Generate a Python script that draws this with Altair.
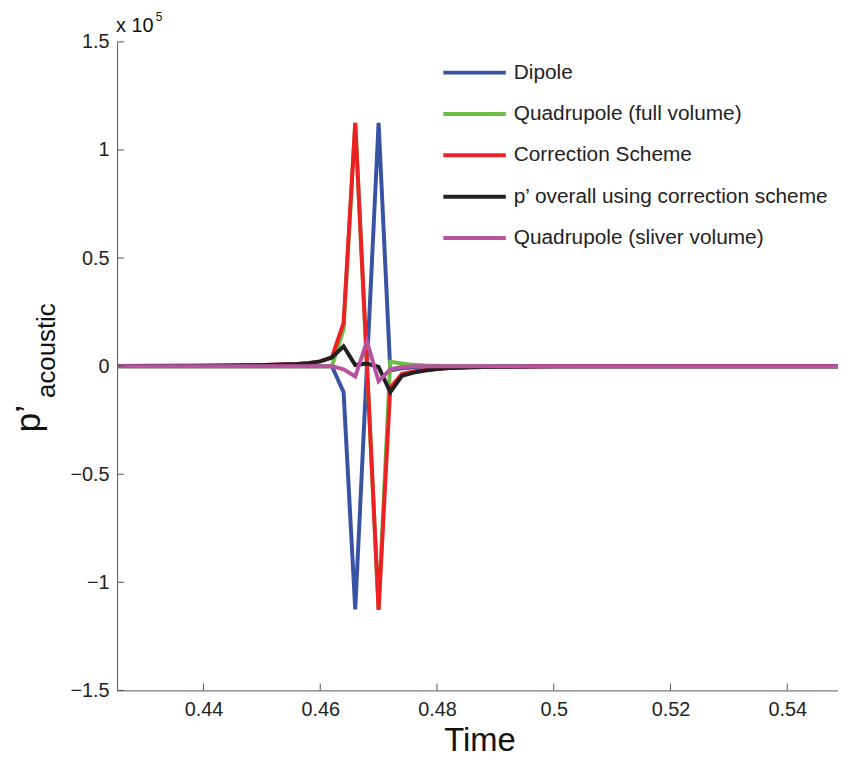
import altair as alt
import pandas as pd

# ---- data (pressure values in units of 1e5) ----
time = [0.420, 0.440, 0.448, 0.452, 0.456, 0.458, 0.460, 0.462, 0.464, 0.466,
        0.468, 0.470, 0.472, 0.474, 0.476, 0.478, 0.480, 0.482, 0.486, 0.490,
        0.500, 0.520, 0.550]
dipole = [0, 0, 0, 0, 0, 0, 0, 0, -0.12, -1.125,
          0.0, 1.125, -0.02, -0.01, -0.005, -0.002, 0, 0, 0, 0,
          0, 0, 0]
quad_full = [0, 0, 0, 0, 0, 0, 0, 0.0, 0.17, 1.125,
             0.0, -1.125, 0.02, 0.012, 0.006, 0.003, 0.002, 0.001, 0.001, 0,
             0, 0, 0]
correction = [0.0, 0.002, 0.004, 0.006, 0.010, 0.014, 0.022, 0.040, 0.20, 1.125,
              0.012, -1.128, -0.10, -0.035, -0.025, -0.018, -0.013, -0.009, -0.005, -0.003,
              -0.001, 0, 0]
overall = [0.0, 0.002, 0.004, 0.006, 0.010, 0.014, 0.022, 0.040, 0.092, 0.005,
           0.012, -0.003, -0.120, -0.045, -0.030, -0.020, -0.013, -0.009, -0.005, -0.003,
           -0.001, 0, 0]
quad_sliver = [0, 0, 0, 0, 0, 0, 0, 0, -0.015, -0.048,
               0.114, -0.07, -0.015, -0.004, 0, 0, 0, 0, 0, 0,
               0, 0, 0]

series_names = ["Dipole", "Quadrupole (full volume)", "Correction Scheme",
                "p\u2019 overall using correction scheme", "Quadrupole (sliver volume)"]
series_values = [dipole, quad_full, correction, overall, quad_sliver]
colors = ["#3953a4", "#6cbe45", "#ed2024", "#231f20", "#b8529e"]

x_ticks = [0.44, 0.46, 0.48, 0.50, 0.52, 0.54]
y_ticks = [-1.5, -1, -0.5, 0, 0.5, 1, 1.5]

W, H = 727, 654
FONT = "Liberation Sans"
AX = "#555555"
TXT = "#222222"

xs = alt.Scale(domain=[0.4252, 0.5487], nice=False, zero=False)
ys = alt.Scale(domain=[-1.5, 1.5], nice=False, zero=False)

x_axis = alt.Axis(values=x_ticks, format="~g", ticks=False, grid=False, domainColor=AX,
                  labelFont=FONT, labelFontSize=20, labelColor=TXT, labelPadding=9,
                  labelFlush=False, title=None)
y_axis = alt.Axis(values=y_ticks, format="~g", ticks=False, grid=False, domainColor=AX,
                  labelFont=FONT, labelFontSize=20, labelColor=TXT, labelPadding=8,
                  labelFlush=False, title=None)

layers = []
for name, vals, col in zip(series_names, series_values, colors):
    df = pd.DataFrame({"t": time, "v": vals})
    layers.append(
        alt.Chart(df).mark_line(color=col, strokeWidth=4, clip=True).encode(
            x=alt.X("t:Q", scale=xs, axis=x_axis),
            y=alt.Y("v:Q", scale=ys, axis=y_axis),
        )
    )

# inward tick marks
xt = alt.Chart(pd.DataFrame({"t": x_ticks})).mark_rule(color=AX, strokeWidth=1).encode(
    x=alt.X("t:Q", scale=xs, axis=x_axis), y=alt.value(H), y2=alt.value(H - 7))
yt = alt.Chart(pd.DataFrame({"v": y_ticks})).mark_rule(color=AX, strokeWidth=1).encode(
    y=alt.Y("v:Q", scale=ys, axis=y_axis), x=alt.value(0), x2=alt.value(7))
layers += [xt, yt]

# legend
for i, (name, col) in enumerate(zip(series_names, colors)):
    ly = 31 + 41.7 * i
    ldf = pd.DataFrame({"name": [name]})
    layers.append(alt.Chart(ldf).mark_rule(color=col, strokeWidth=4).encode(
        x=alt.value(329), x2=alt.value(392), y=alt.value(ly)))
    layers.append(alt.Chart(ldf).mark_text(align="left", baseline="middle", font=FONT,
                                           fontSize=21, color=TXT).encode(
        x=alt.value(400), y=alt.value(ly), text="name:N"))

# titles / annotations
def label(txt, x, y, size, angle=0, align="left", baseline="alphabetic"):
    return alt.Chart(pd.DataFrame({"s": [txt]})).mark_text(
        align=align, baseline=baseline, font=FONT, fontSize=size, color="#111111",
        angle=angle).encode(x=alt.value(x), y=alt.value(y), text="s:N")

layers += [
    label("Time", 366, 715, 33, align="center"),
    label("p\u2019", -78, 394, 36, angle=270),
    label("acoustic", -63, 359, 26, angle=270),
    label("x 10", -1, -10, 20),
    label("5", 39, -21, 12),
]

chart = alt.layer(*layers).properties(
    width=W, height=H,
    padding={"left": 110, "top": 31, "right": 0, "bottom": 66},
    autosize=alt.AutoSizeParams(type="none"),
    background="white",
).configure_view(stroke=None)

chart.save("out.html", embed_options={"renderer": "svg", "actions": False})
